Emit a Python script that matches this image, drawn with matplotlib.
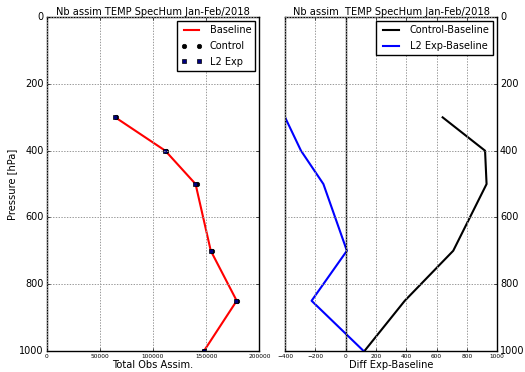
import matplotlib
matplotlib.use("Agg")
import matplotlib.pyplot as plt
import numpy as np

plt.style.use('classic')

levels = [300, 400, 500, 700, 850, 1000]
baseline = [64500, 111500, 140000, 154300, 178700, 148000]
control = [65140, 112420, 140930, 155010, 179090, 148125]
l2exp = [64100, 111205, 139853, 154308, 178475, 148117]

title = "Nb assim TEMP SpecHum Jan-Feb/2018"
title2 = "Nb assim  TEMP SpecHum Jan-Feb/2018"

diff_ctrl = np.array(control) - np.array(baseline)
diff_l2 = np.array(l2exp) - np.array(baseline)

fig = plt.figure(figsize=(5.25, 3.72), dpi=100, facecolor='white')
ax1 = fig.add_axes([0.089, 0.057, 0.405, 0.8965])
ax2 = fig.add_axes([0.543, 0.057, 0.404, 0.8965])

grid_kw = dict(color='0.6', linestyle=(0, (1, 1)), linewidth=0.7)

ax1.plot(baseline, levels, color='red', lw=1.5, label='Baseline')
ax1.plot(control, levels, 'o', color='black', ms=3.2, mec='black', label='Control')
ax1.plot(l2exp, levels, 's', color='navy', ms=3.2, mec='black', mew=0.5, label='L2 Exp')
ax1.set_xlim(0, 200000)
ax1.set_ylim(1000, 0)
ax1.set_xticks([0, 50000, 100000, 150000, 200000])
ax1.set_yticks([0, 200, 400, 600, 800, 1000])
ax1.tick_params(axis='both', length=2.5)
ax1.tick_params(axis='x', labelsize=4.2, pad=2)
ax1.tick_params(axis='y', labelsize=7, pad=2)
ax1.grid(True, **grid_kw)
ax1.set_title(title, fontsize=7.1, pad=2)
ax1.set_xlabel('Total Obs Assim.', fontsize=7.1, labelpad=1)
ax1.set_ylabel('Pressure [hPa]', fontsize=7.1, labelpad=2)
ax1.legend(loc='upper right', fontsize=7, numpoints=2,
           borderaxespad=0.4, handlelength=2.2, labelspacing=0.6)

ax2.plot(diff_ctrl, levels, color='black', lw=1.5, label='Control-Baseline')
ax2.plot(diff_l2, levels, color='blue', lw=1.5, label='L2 Exp-Baseline')
ax2.axvline(0, color='black', lw=1)
ax2.set_xlim(-400, 1000)
ax2.set_ylim(1000, 0)
ax2.set_xticks([-400, -200, 0, 200, 400, 600, 800, 1000])
ax2.set_yticks([0, 200, 400, 600, 800, 1000])
ax2.yaxis.tick_right()
ax2.yaxis.set_label_position('right')
ax2.tick_params(axis='both', length=2.5)
ax2.tick_params(axis='x', labelsize=4.2, pad=2)
ax2.tick_params(axis='y', labelsize=7, pad=2)
ax2.grid(True, **grid_kw)
ax2.set_title(title2, fontsize=7.1, pad=2)
ax2.set_xlabel('Diff Exp-Baseline', fontsize=7.1, labelpad=1)
ax2.legend(loc='upper right', fontsize=7, borderaxespad=0.4,
           handlelength=2.2, labelspacing=0.6)

fig.savefig('out.png', dpi=100, facecolor='white')
